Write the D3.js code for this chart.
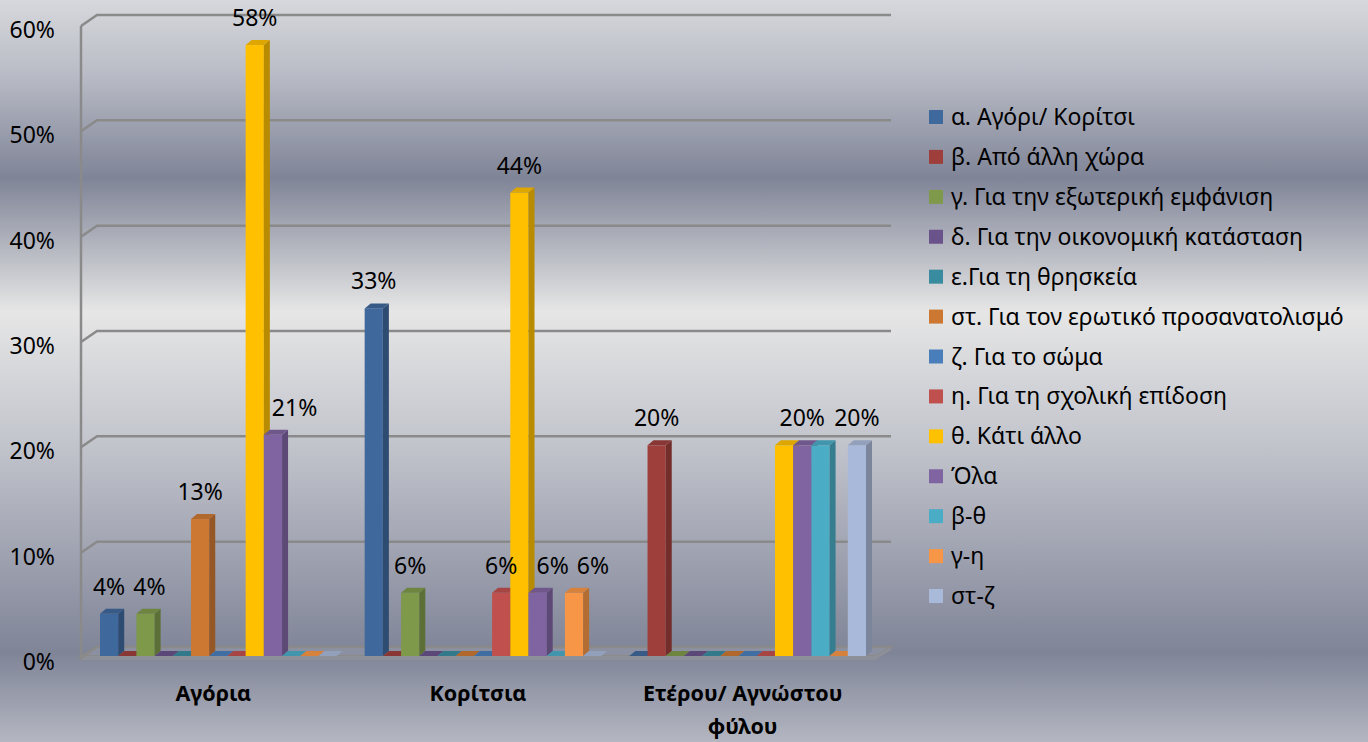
<!DOCTYPE html>
<html>
<head>
<meta charset="utf-8">
<script src="https://cdn.jsdelivr.net/npm/d3@7"></script>
<style>
  html, body { margin: 0; padding: 0; background: #fff; }
  svg text { font-family: "Noto Sans", "Open Sans", sans-serif; fill: #000; }
</style>
</head>
<body>
<svg id="chart" width="1368" height="742"></svg>
<script>
// categories on the x axis
const categories = ['Αγόρια', 'Κορίτσια', 'Ετέρου/ Αγνώστου φύλου'];

// series (legend order)
const seriesNames = [
  'α. Αγόρι/ Κορίτσι',
  'β. Από άλλη χώρα',
  'γ. Για την εξωτερική εμφάνιση',
  'δ. Για την οικονομική κατάσταση',
  'ε.Για τη θρησκεία',
  'στ. Για τον ερωτικό προσανατολισμό',
  'ζ. Για το σώμα',
  'η. Για τη σχολική επίδοση',
  'θ. Κάτι άλλο',
  'Όλα',
  'β-θ',
  'γ-η',
  'στ-ζ'
];
const seriesColors = ['#3f689c', '#9e3f3c', '#7f994a', '#6a528b', '#398ca0', '#cc7833',
  '#4a7ebb', '#c0504d', '#ffc000', '#8064a2', '#4bacc6', '#f79646', '#a9b9d9'];

// values per category, one per series (fractions)
const boysValues   = [0.04, 0, 0.04, 0, 0, 0.13, 0, 0, 0.58, 0.21, 0, 0, 0];
const girlsValues  = [0.33, 0, 0.06, 0, 0, 0, 0, 0.06, 0.44, 0.06, 0, 0.06, 0];
const otherValues  = [0, 0.20, 0, 0, 0, 0, 0, 0, 0.20, 0.20, 0.20, 0, 0.20];
const valuesByCategory = [boysValues, girlsValues, otherValues];

const yTicks = [0, 0.1, 0.2, 0.3, 0.4, 0.5, 0.6];

const svg = d3.select('#chart');
const W = 1368, H = 742;

// background gradient
const defs = svg.append('defs');
const bg = defs.append('linearGradient').attr('id', 'bg')
  .attr('x1', 0).attr('y1', 0).attr('x2', 0).attr('y2', 1);
[[0, '#d7d8dc'], [0.1, '#b9bcc6'], [0.24, '#7f8497'], [0.42, '#e6e6e6'],
 [0.6, '#c2c4cc'], [0.88, '#7f8497'], [1, '#b4b7c1']].forEach(s => {
  bg.append('stop').attr('offset', s[0]).attr('stop-color', s[1]);
});
svg.append('rect').attr('width', W).attr('height', H).attr('fill', 'url(#bg)');

// plot geometry (front plane of the box, depth goes up-right)
const plotLeft = 81, plotRight = 875;
const depthX = 16, depthY = -11;
const barDX = 6, barDY = -5;

const y = d3.scaleLinear().domain([0, 0.6]).range([658, 26]);
const xCat = d3.scaleBand().domain(categories).range([plotLeft, plotRight]);
const xSer = d3.scaleBand().domain(seriesNames)
  .range([19, xCat.bandwidth() - 9]);
const barY = v => y(v) - 2;

const gridColor = '#8a8a8a';
const pct = d3.format('.0%');

// floor
const floor = svg.append('g');
floor.append('path')
  .attr('d', `M${plotLeft},${y(0) - 2} L${plotRight},${y(0) - 2} L${plotRight + depthX},${y(0) + depthY} L${plotLeft + depthX},${y(0) + depthY} Z`)
  .attr('fill', 'rgba(160,165,180,0.35)')
  .attr('stroke', gridColor).attr('stroke-width', 2);
floor.append('path')
  .attr('d', `M${plotLeft},${y(0) - 2} L${plotRight},${y(0) - 2} L${plotRight},${y(0) + 2} L${plotLeft},${y(0) + 2} Z`)
  .attr('fill', '#8e9099');
floor.append('path')
  .attr('d', `M${plotRight},${y(0) - 2} L${plotRight + depthX},${y(0) + depthY} L${plotRight + depthX},${y(0) + depthY + 3} L${plotRight},${y(0) + 2} Z`)
  .attr('fill', '#8e9099');

// gridlines (left wall diagonal + back wall horizontal)
svg.append('g').selectAll('path')
  .data(yTicks)
  .enter().append('path')
  .attr('d', t => `M${plotLeft},${y(t)} L${plotLeft + depthX},${y(t) + depthY} L${plotRight + depthX},${y(t) + depthY}`)
  .attr('fill', 'none')
  .attr('stroke', gridColor)
  .attr('stroke-width', 2.5);

// left wall edge
svg.append('line')
  .attr('x1', plotLeft).attr('x2', plotLeft)
  .attr('y1', y(0.6)).attr('y2', y(0) + 2)
  .attr('stroke', gridColor).attr('stroke-width', 2.5);

// y tick labels
svg.append('g').selectAll('text')
  .data(yTicks)
  .enter().append('text')
  .attr('x', 55)
  .attr('y', t => y(t) + 4)
  .attr('dy', '0.35em')
  .attr('text-anchor', 'end')
  .style('font-size', '23px')
  .text(pct);

// bars
const bars = svg.append('g');
categories.forEach((cat, ci) => {
  const vals = valuesByCategory[ci];
  seriesNames.forEach((s, si) => {
    const v = vals[si];
    const x = xCat(cat) + xSer(s);
    const w = xSer.bandwidth();
    const top = barY(v), base = barY(0);
    const col = d3.color(seriesColors[si]);
    const g = bars.append('g');
    if (v > 0) {
      g.append('rect')
        .attr('x', x).attr('y', top)
        .attr('width', w).attr('height', base - top)
        .attr('fill', col);
      g.append('path')
        .attr('d', `M${x + w},${top} L${x + w + barDX},${top + barDY} L${x + w + barDX},${base + barDY} L${x + w},${base} Z`)
        .attr('fill', col.darker(0.9));
    }
    g.append('path')
      .attr('d', `M${x},${top} L${x + barDX},${top + barDY} L${x + w + barDX},${top + barDY} L${x + w},${top} Z`)
      .attr('fill', col.darker(0.4));
  });
});

// data labels
const labelLayer = svg.append('g');
categories.forEach((cat, ci) => {
  const vals = valuesByCategory[ci];
  const w = xSer.bandwidth();
  const placed = [];
  let si = 0;
  while (si < vals.length) {
    const v = vals[si];
    if (v <= 0) { si++; continue; }
    // a run of equal adjacent bars gets a single label
    let sj = si;
    while (sj + 1 < vals.length && vals[sj + 1] === v) sj++;
    const left = xCat(cat) + xSer(seriesNames[si]);
    const right = xCat(cat) + xSer(seriesNames[sj]) + w;
    let cx = (left + right) / 2;
    const ty = barY(v) - 19;
    const t = labelLayer.append('text')
      .attr('y', ty)
      .attr('text-anchor', 'middle')
      .style('font-size', '23px')
      .text(pct(v));
    const tw = t.node().getComputedTextLength();
    // keep clear of taller bars on the left
    for (let k = 0; k < si; k++) {
      if (vals[k] > v) {
        const bRight = xCat(cat) + xSer(seriesNames[k]) + w + barDX;
        if (cx - tw / 2 < bRight) cx = Math.max(cx, bRight + 2 + tw / 2);
      }
    }
    // keep clear of earlier labels at the same height
    placed.forEach(p => {
      if (Math.abs(p.y - ty) < 22 && cx - tw / 2 < p.right + 8) {
        cx = p.right + 8 + tw / 2;
      }
    });
    t.attr('x', cx);
    placed.push({ y: ty, right: cx + tw / 2 });
    si = sj + 1;
  }
});

// category labels
function wrap(text, width) {
  text.each(function () {
    const t = d3.select(this);
    const words = t.text().split(/\s+/);
    const x = t.attr('x'), y0 = t.attr('y');
    t.text(null);
    let line = [], lineNo = 0;
    let tspan = t.append('tspan').attr('x', x).attr('y', y0);
    words.forEach(word => {
      line.push(word);
      tspan.text(line.join(' '));
      if (tspan.node().getComputedTextLength() > width && line.length > 1) {
        line.pop();
        tspan.text(line.join(' '));
        line = [word];
        lineNo++;
        tspan = t.append('tspan').attr('x', x).attr('y', +y0 + lineNo * 33).text(word);
      }
    });
  });
}
svg.append('g').selectAll('text')
  .data(categories)
  .enter().append('text')
  .attr('x', d => xCat(d) + xCat.bandwidth() / 2)
  .attr('y', 701)
  .attr('text-anchor', 'middle')
  .style('font-size', '21.5px')
  .style('font-weight', 'bold')
  .text(d => d)
  .call(wrap, 240);

// legend
const legendY = d3.scalePoint().domain(seriesNames).range([117, 596]);
const legend = svg.append('g');
legend.selectAll('rect')
  .data(seriesNames)
  .enter().append('rect')
  .attr('x', 929)
  .attr('y', d => legendY(d) - 7)
  .attr('width', 14).attr('height', 14)
  .attr('fill', (d, i) => seriesColors[i]);
legend.selectAll('text')
  .data(seriesNames)
  .enter().append('text')
  .attr('x', 951)
  .attr('y', d => legendY(d))
  .attr('dy', '0.35em')
  .style('font-size', '23px')
  .text(d => d);
</script>
</body>
</html>
